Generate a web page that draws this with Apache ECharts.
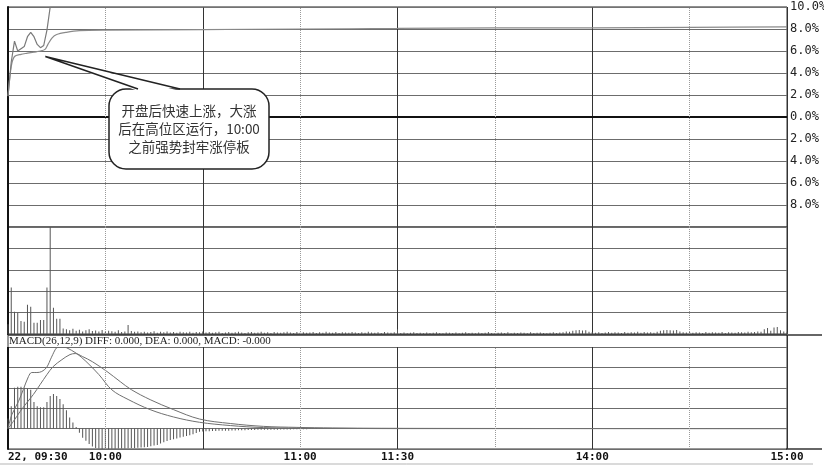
<!DOCTYPE html>
<html><head><meta charset="utf-8">
<script src="https://cdn.jsdelivr.net/npm/echarts@6/dist/echarts.min.js"></script>
<style>html,body{margin:0;padding:0;background:#fff}#c{width:824px;height:469px}</style>
</head><body><div id="c"></div>
<script>
// ---- data (minutes after 09:30, 240 trading minutes) ----
const tickLabels = ['22, 09:30','10:00','','11:00','11:30','','14:00','','15:00'];
const lightTicks = [30, 90, 150, 210];   // half-hour marks drawn as dotted lines

// price change % (sparse readings)
const priceMin = [0,1,2,3,4,5,6,7,8,9,10,11,12,13,240];
const priceVal = [1.9,5.0,6.9,6.0,6.2,6.4,7.3,7.7,7.3,6.6,6.3,6.5,7.9,10.0,10.0];

// average price change %
const avgMin = [0,1,2,4,6,8,10,11.4,12.3,13.6,15,18,22,30,60,90,120,150,180,210,240];
const avgVal = [1.9,4.6,5.5,5.7,5.8,5.9,6.0,6.15,6.6,7.2,7.5,7.7,7.85,7.9,7.95,8.0,8.05,8.1,8.1,8.15,8.2];

// volume per minute (index = minute)
const volume = [
45,217,104,99,61,57,137,127,52,52,66,66,217,500,123,71,71,
26,22,18,24,15,20,12,18,22,14,16,12,19,10,15,13,11,17,9,12,42,14,10,12,
8,11,7,9,13,6,10,8,12,7,9,6,11,8,7,10,6,9,8,12,
7,9,6,8,10,5,7,9,6,8,11,7,5,8,9,6,7,10,6,8,5,9,7,6,8,10,7,5,9,6,
8,6,7,9,5,8,6,10,7,6,9,5,8,7,6,9,7,5,8,6,10,7,6,8,5,9,7,6,8,22,
5,7,4,6,8,5,6,4,7,5,6,8,5,4,7,6,5,7,4,6,8,5,6,4,7,5,6,9,5,4,6,7,5,8,4,6,5,7,6,4,8,5,6,7,5,4,6,8,5,7,
8,12,10,15,17,19,16,18,11,9,
6,8,5,7,9,6,8,7,5,9,6,8,7,10,6,9,7,8,6,10,
15,18,19,17,16,19,12,8,7,9,
6,8,7,5,9,6,8,7,6,9,5,8,7,6,9,8,7,10,8,9,
12,10,22,28,15,30,33,18,12,8
];

// MACD(26,12,9)
const diffMin = [0,1.2,3.2,4.7,6.3,7.3,8.9,10.4,11.9,13.4,15,16.5,18,21,24,28,32,37,43.8,51,59,68.5,78.7,95,120,240];
const diffVal = [0,0.0069,0.0132,0.0191,0.0255,0.0275,0.0275,0.028,0.030,0.035,0.0397,0.0407,0.0397,0.037,0.033,0.0265,0.019,0.0143,0.0093,0.0057,0.0031,0.0015,0.0005,0.0002,0,0];
const deaMin = [0,1.6,3.7,5.8,7.8,9.9,12,13.9,16.6,19.1,20.7,23,26,30.5,34.6,38,43.8,51,59,68.5,78.7,89,100,130,240];
const deaVal = [0,0.0034,0.0083,0.0127,0.0167,0.0216,0.0265,0.0304,0.0338,0.0363,0.0368,0.0353,0.0328,0.028,0.023,0.0191,0.0142,0.0093,0.0047,0.0025,0.0011,0.0006,0.0003,0.0001,0];
const macdHist = [
0.005,0.011,0.020,0.0205,0.0205,0.020,0.0195,0.019,0.013,0.011,
0.0105,0.0105,0.013,0.016,0.017,0.016,0.0145,0.012,0.009,0.0055,
0.003,0.0008,-0.002,-0.0045,-0.006,-0.0075,-0.0088,-0.0095,-0.0098,-0.010,
-0.010,-0.010,-0.0099,-0.0099,-0.0098,-0.0098,-0.0097,-0.0096,-0.0095,-0.0095,
-0.0094,-0.0093,-0.0092,-0.009,-0.0087,-0.0083,-0.008,-0.0073,-0.0067,-0.0061,
-0.0056,-0.0052,-0.0048,-0.0044,-0.004,-0.0036,-0.0032,-0.0028,-0.0022,-0.0015,
-0.0014,-0.0013,-0.0013,-0.0012,-0.0012,-0.0011,-0.0011,-0.001,-0.001,-0.0009,
-0.0009,-0.0008,-0.0008,-0.0008,-0.0007,-0.0007,-0.0007,-0.0006,-0.0006,-0.0006,
-0.0005,-0.0005,-0.0005,-0.0005,-0.0004,-0.0004,-0.0004,-0.0004,-0.0003,-0.0003,
-0.0003,-0.0003,-0.0003,-0.0002,-0.0002,-0.0002,-0.0002,-0.0002,-0.0002,-0.0001,
-0.0001
];

const headerText = 'MACD(26,12,9) DIFF: 0.000, DEA: 0.000, MACD: -0.000';
const noteLines = ['开盘后快速上涨，大涨','后在高位区运行，10:00','之前强势封牢涨停板'];
const notePoint = [11.5, 5.5];

// ---- chart ----
const pairs = (xs, ys) => xs.map((x, i) => [x, ys[i]]);
const gridLine = '#6c6c6c';
const mono = '"DejaVu Sans Mono", monospace';

function xAxis(i, labels) {
  return {
    type: 'value', gridIndex: i, min: 0, max: 240, interval: 30,
    axisLine: { show: false }, axisTick: { show: false },
    axisLabel: labels ? {
      show: true, margin: 3, fontFamily: mono, fontSize: 11, fontWeight: 'bold', color: '#111',
      alignMinLabel: 'left',
      formatter: v => tickLabels[Math.round(v / 30)] || ''
    } : { show: false },
    splitLine: { show: true, lineStyle: { color: ['#333', 'rgba(0,0,0,0)'], width: 1 } }
  };
}
const lightMarks = () => ({
  silent: true, symbol: 'none', label: { show: false },
  lineStyle: { color: '#9a9a9a', width: 1, type: 'dotted' },
  data: lightTicks.map(t => ({ xAxis: t }))
});
const gridBase = { left: 8, right: 37, show: true, borderColor: '#333', borderWidth: 1, containLabel: false, outerBoundsMode: 'none' };

const option = {
  animation: false,
  backgroundColor: '#ffffff',
  grid: [
    Object.assign({ top: 7, height: 220 }, gridBase),
    Object.assign({ top: 227, height: 107 }, gridBase),
    Object.assign({ top: 335, height: 114 }, gridBase)
  ],
  xAxis: [xAxis(0, false), xAxis(1, false), xAxis(2, true)],
  yAxis: [
    { type: 'value', gridIndex: 0, position: 'right', min: -10, max: 10, interval: 2,
      axisLine: { show: true, lineStyle: { color: '#111', width: 2 } }, axisTick: { show: false },
      axisLabel: { margin: 3, fontFamily: mono, fontSize: 12, color: '#222',
        formatter: v => v === -10 ? '' : Math.abs(v).toFixed(1) + '%' },
      splitLine: { lineStyle: { color: gridLine, width: 1 } } },
    { type: 'value', gridIndex: 1, position: 'right', min: 0, max: 500, interval: 100,
      axisLine: { show: true, lineStyle: { color: '#111', width: 2 } }, axisTick: { show: false },
      axisLabel: { show: false }, splitLine: { lineStyle: { color: gridLine, width: 1 } } },
    { type: 'value', gridIndex: 2, position: 'right', min: -0.01, max: 0.0459, interval: 0.01,
      axisLine: { show: true, lineStyle: { color: '#111', width: 2 } }, axisTick: { show: false },
      axisLabel: { show: false }, splitLine: { lineStyle: { color: gridLine, width: 1 } } }
  ],
  series: [
    { name: 'zero', type: 'line', xAxisIndex: 0, yAxisIndex: 0, data: [], z: 2,
      markLine: { silent: true, symbol: 'none', label: { show: false },
        lineStyle: { color: '#111', width: 2, type: 'solid' }, data: [{ yAxis: 0 }] } },
    { name: 'avg', type: 'line', xAxisIndex: 0, yAxisIndex: 0, data: pairs(avgMin, avgVal),
      showSymbol: false, smooth: 0.3, lineStyle: { color: '#8a8a8a', width: 1.2 }, z: 3,
      markLine: lightMarks() },
    { name: 'price', type: 'line', xAxisIndex: 0, yAxisIndex: 0, data: pairs(priceMin, priceVal),
      showSymbol: false, lineStyle: { color: '#7a7a7a', width: 1.2 }, z: 4 },
    { name: 'vol', type: 'bar', xAxisIndex: 1, yAxisIndex: 1,
      data: volume.map((v, i) => [i, v]), barWidth: 1, itemStyle: { color: '#555' },
      markLine: lightMarks() },
    { name: 'MACD', type: 'bar', xAxisIndex: 2, yAxisIndex: 2,
      data: macdHist.map((v, i) => [i, v]), barWidth: 1, itemStyle: { color: '#555' },
      markLine: lightMarks() },
    { name: 'DIFF', type: 'line', xAxisIndex: 2, yAxisIndex: 2, data: pairs(diffMin, diffVal),
      showSymbol: false, smooth: 0.35, lineStyle: { color: '#707070', width: 1 }, z: 4 },
    { name: 'DEA', type: 'line', xAxisIndex: 2, yAxisIndex: 2, data: pairs(deaMin, deaVal),
      showSymbol: false, smooth: 0.35, lineStyle: { color: '#707070', width: 1 }, z: 4 }
  ]
};

const chart = echarts.init(document.getElementById('c'), null, { renderer: 'canvas' });
chart.setOption(option);

const tip = chart.convertToPixel({ gridIndex: 0 }, notePoint);
const bx = 109, by = 89, bw = 160, bh = 80;
const baseL = 138, baseR = 180;
const textStyle = { font: '13.5px "Noto Sans CJK SC", sans-serif', fill: '#333', textAlign: 'center', textVerticalAlign: 'middle' };
chart.setOption({
  graphic: [
    { type: 'rect', shape: { x: 0, y: 335, width: 786, height: 12 }, style: { fill: '#fff' }, z: 50, silent: true },
    { type: 'line', shape: { x1: 8, y1: 335, x2: 822, y2: 335 }, style: { stroke: '#333', lineWidth: 1.5 }, z: 51 },
    { type: 'line', shape: { x1: 8, y1: 335, x2: 8, y2: 347 }, style: { stroke: '#333', lineWidth: 1 }, z: 51 },
    { type: 'text', x: 9, y: 341, style: { text: headerText, font: '11px "Liberation Serif", serif', fill: '#222', textVerticalAlign: 'middle' }, z: 52 },
    { type: 'line', shape: { x1: 786, y1: 449, x2: 822, y2: 449 }, style: { stroke: '#333', lineWidth: 1.5 }, z: 51 },
    { type: 'line', shape: { x1: 0, y1: 464, x2: 813, y2: 464 }, style: { stroke: '#b5b5b5', lineWidth: 1 }, z: 51 },
    { type: 'rect', shape: { x: bx, y: by, width: bw, height: bh, r: 17 }, style: { fill: '#fff', stroke: '#222', lineWidth: 1.5 }, z: 60 },
    { type: 'polygon', shape: { points: [tip, [baseL, by + 2], [baseR, by + 2]] }, style: { fill: '#fff' }, z: 61 },
    { type: 'polyline', shape: { points: [[baseL, by], tip, [baseR, by]] }, style: { stroke: '#222', lineWidth: 1.5, fill: null }, z: 62 },
    { type: 'text', x: bx + bw / 2, y: 111, style: Object.assign({ text: noteLines[0] }, textStyle), z: 63 },
    { type: 'text', x: bx + bw / 2, y: 129, style: Object.assign({ text: noteLines[1] }, textStyle), z: 63 },
    { type: 'text', x: bx + bw / 2, y: 147, style: Object.assign({ text: noteLines[2] }, textStyle), z: 63 }
  ]
});
</script></body></html>
